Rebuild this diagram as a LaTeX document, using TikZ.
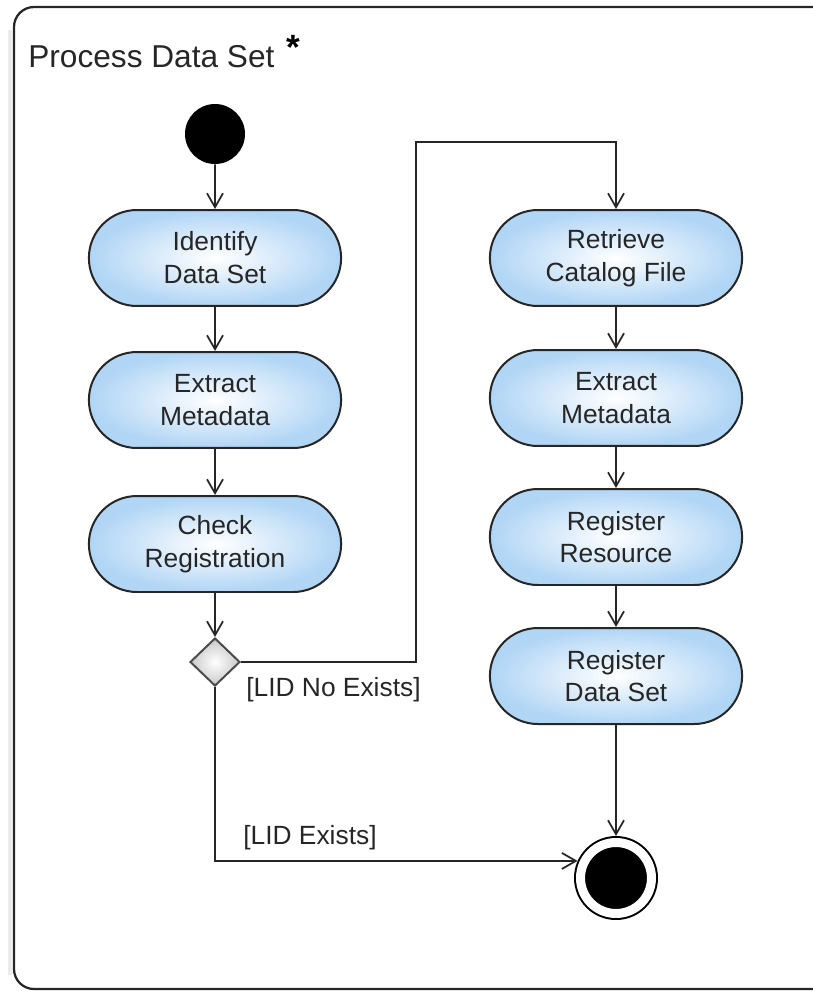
\documentclass[tikz,border=0pt]{standalone}
\usepackage{fontspec}
\setmainfont{Liberation Sans}
\usetikzlibrary{shapes.misc,shapes.geometric,arrows.meta}
\definecolor{actblue}{RGB}{176,213,245}
\definecolor{inkgray}{RGB}{38,38,38}
\definecolor{diagray}{RGB}{200,200,200}
\tikzset{
   frame/.style={draw=black!85, line width=0.045cm, rounded corners=0.4cm},
   title/.style={anchor=base west, inner sep=0, text=inkgray, font=\fontsize{18}{22}\selectfont},
   star/.style={anchor=base west, inner sep=0, text=black, font=\bfseries\fontsize{20}{20}\selectfont},
   action/.style={rounded rectangle, draw=inkgray, line width=0.04cm,
      shading=radial, inner color=white, outer color=actblue,
      minimum width=5.28cm, minimum height=1.92cm, align=center,
      text=inkgray, font=\fontsize{15}{18.7}\selectfont},
   decision/.style={diamond, draw=black!70, line width=0.04cm,
      shading=radial, inner color=white, outer color=diagray,
      minimum width=1cm, minimum height=0.96cm, inner sep=0},
   start/.style={circle, fill=black, minimum size=1.2cm, inner sep=0},
   stop/.style={circle, fill=black, draw=black, double=white, double distance=0.18cm,
      line width=0.04cm, minimum size=1.42cm, inner sep=0, outer sep=0.13cm},
   flow/.style={draw=inkgray, line width=0.035cm, -{Straight Barb[length=0.28cm, width=0.32cm]}},
   guard/.style={anchor=west, inner sep=0, text=inkgray, font=\fontsize{15}{18}\selectfont}
}
\begin{document}
\begin{tikzpicture}[x=0.02cm, y=-0.02cm]
   \useasboundingbox (0,0) rectangle (813,991);
   % frame with a soft shadow on the left
   \draw[black!8, line width=0.1cm] (10,30) -- (10,975);
   \draw[frame] (14,7) rectangle (832,989);
   \node[title] (title) at (28,67) {Process Data Set};
   \node[star] (star) at (286,59) {*};
   \node[start] (init) at (215,134) {};
   \def \Actions {
      identify/215/258/Identify\\Data Set,
      extractA/215/400/Extract\\Metadata,
      registration/215/544/Check\\Registration,
      retrieve/616/258/Retrieve\\Catalog File,
      extractB/616/398/Extract\\Metadata,
      resource/616/537/Register\\Resource,
      dataset/616/676/Register\\Data Set}
   \foreach \u / \x / \y / \n in \Actions {
      \node[action] (\u) at (\x, \y) {\n};
   }
   \node[decision] (check) at (215,662) {};
   \node[stop] (final) at (616,878) {};
   \def \Flows {
      init/identify,
      identify/extractA,
      extractA/registration,
      registration/check,
      retrieve/extractB,
      extractB/resource,
      resource/dataset,
      dataset/final}
   \foreach \u / \v in \Flows {
      \path[flow] (\u) -- (\v);
   }
   \coordinate (turn) at (416,142);
   \path[flow] (check) -| (turn) -| (retrieve);
   \path[flow] (check) |- (final.156);
   \node[guard] (noExists) at (246,690) {[LID No Exists]};
   \node[guard] (exists) at (243,838) {[LID Exists]};
\end{tikzpicture}
\end{document}
